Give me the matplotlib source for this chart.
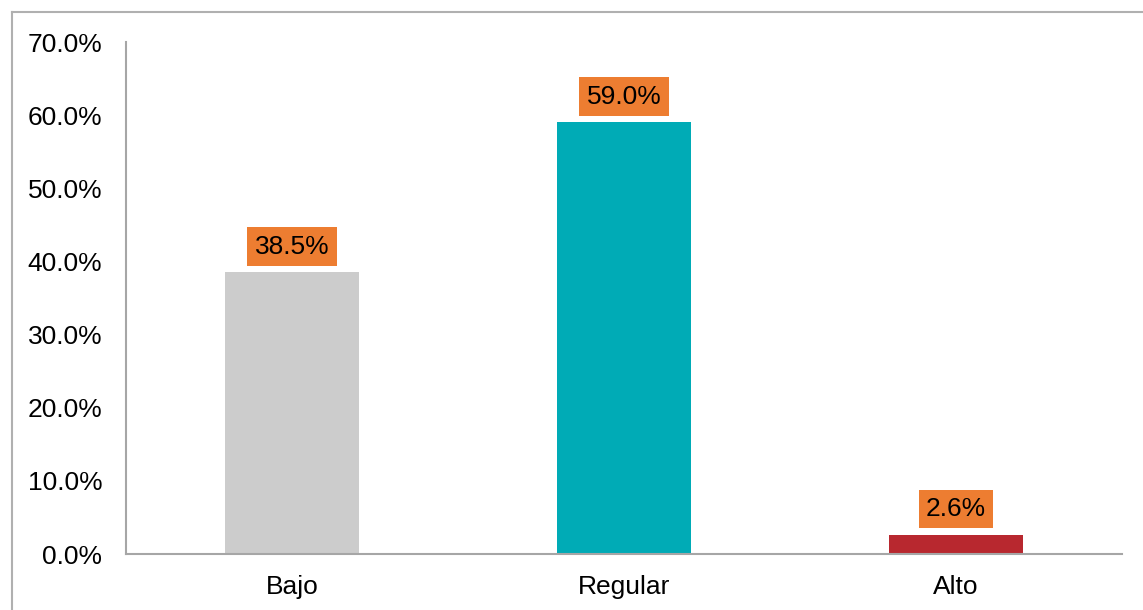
import matplotlib.pyplot as plt
from matplotlib.lines import Line2D
from matplotlib.ticker import PercentFormatter

categories = ["Bajo", "Regular", "Alto"]
values = [38.5, 59.0, 2.6]
labels = ["38.5%", "59.0%", "2.6%"]
colors = ["#cccccc", "#00abb6", "#b8282f"]

plt.rcParams['font.family'] = ['Liberation Sans', 'DejaVu Sans']

fig = plt.figure(figsize=(11.43, 6.10), dpi=100)
ax = fig.add_axes([126 / 1143, 56 / 610, 996 / 1143, 512 / 610])

x = range(len(categories))
ax.bar(x, values, width=0.403, color=colors)

for xi, v, lab in zip(x, values, labels):
    ax.annotate(lab, (xi, v), xytext=(0, 10), textcoords="offset points",
                ha="center", va="bottom", fontsize=19, color="black",
                bbox=dict(boxstyle="square,pad=0.28", fc="#ed7d31", ec="none"))

ax.set_xlim(-0.5, 2.5)
ax.set_ylim(0, 70)
ax.set_yticks(range(0, 71, 10))
ax.yaxis.set_major_formatter(PercentFormatter(decimals=1))
ax.set_xticks(list(x))
ax.set_xticklabels(categories)
ax.tick_params(length=0, labelsize=19, colors="black")
ax.tick_params(axis="y", pad=17)
ax.tick_params(axis="x", pad=15)

for s in ["top", "right"]:
    ax.spines[s].set_visible(False)
for s in ["left", "bottom"]:
    ax.spines[s].set_color("#a6a6a6")
    ax.spines[s].set_linewidth(1.5)

# outer chart frame
fig.add_artist(Line2D([11.5 / 1143, 11.5 / 1143], [0, 1 - 11.5 / 610],
                      transform=fig.transFigure, color="#b0b0b0", lw=1.5))
fig.add_artist(Line2D([11.5 / 1143, 1], [1 - 11.5 / 610, 1 - 11.5 / 610],
                      transform=fig.transFigure, color="#b0b0b0", lw=1.5))

fig.savefig("out.png", dpi=100)
